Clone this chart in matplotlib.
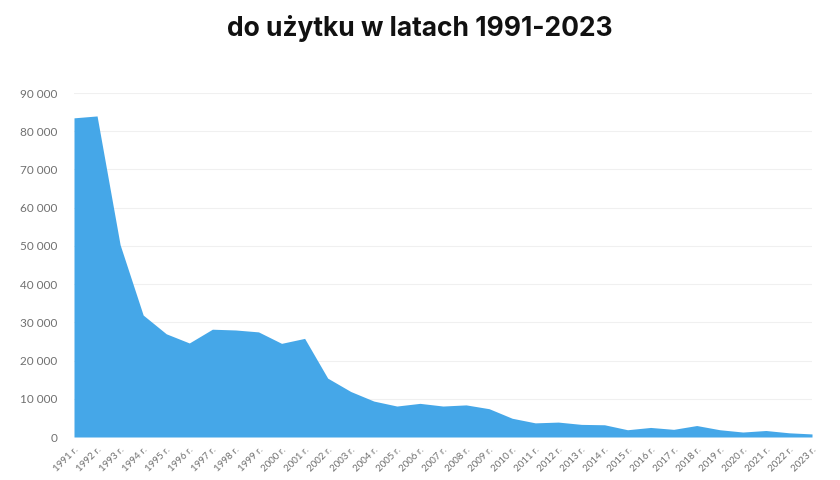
import numpy as np
import matplotlib
matplotlib.use("Agg")
import matplotlib.pyplot as plt
from matplotlib.ticker import FuncFormatter

# dane
years = list(range(1991, 2024))
values = [83500, 84000, 50300, 31900, 27000, 24600, 28200, 28000, 27500, 24500,
          25800, 15400, 11900, 9400, 8100, 8800, 8100, 8400, 7400, 4900,
          3700, 3900, 3300, 3200, 1900, 2500, 2000, 3000, 1900, 1300,
          1700, 1100, 800]
x_labels = ["%d r." % y for y in years]
title = "do użytku w latach 1991-2023"

fig = plt.figure(figsize=(8.4, 4.8), dpi=100)
ax = fig.add_axes([74 / 840, 43 / 480, 738 / 840, 344 / 480])

ax.fill_between(years, values, 0, color="#45a7e8", linewidth=0, zorder=2)

ax.set_xlim(years[0], years[-1])
ax.set_ylim(0, 90000)
ax.set_yticks(np.arange(0, 90001, 10000))
ax.yaxis.set_major_formatter(FuncFormatter(lambda v, p: "{:,}".format(int(v)).replace(",", " ")))
ax.set_xticks(years)
ax.set_xticklabels(x_labels, rotation=45, ha="right", va="top", rotation_mode="anchor")

ax.grid(axis="y", color="#f0f0f0", linewidth=0.8, zorder=0)
for s in ax.spines.values():
    s.set_visible(False)
ax.tick_params(axis="y", length=0, pad=12, labelsize=8.5, labelcolor="#707070")
ax.tick_params(axis="x", length=0, pad=6, labelsize=7, labelcolor="#707070")
for lab in ax.get_xticklabels() + ax.get_yticklabels():
    lab.set_family(["Lato", "DejaVu Sans"])

fig.text(0.5, 1 - 29 / 480, title, ha="center", va="center",
         fontsize=19, fontweight="bold", family=["Inter", "DejaVu Sans"], color="#111111")

fig.savefig("out.png", dpi=100)
